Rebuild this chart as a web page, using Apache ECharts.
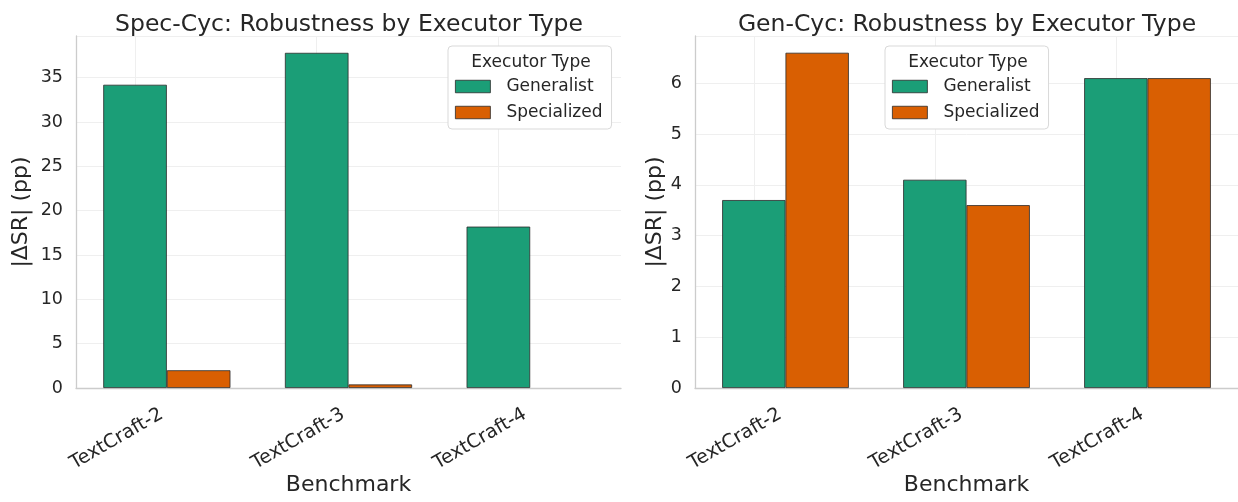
<!DOCTYPE html>
<html>
<head>
<meta charset="utf-8">
<script src="https://cdn.jsdelivr.net/npm/echarts@6/dist/echarts.min.js"></script>
<style>
  html, body { margin: 0; padding: 0; background: #ffffff; }
  #chart { width: 1238px; height: 502px; }
</style>
</head>
<body>
<div id="chart"></div>
<script>
// data
const benchmarks = ['TextCraft-2', 'TextCraft-3', 'TextCraft-4'];
const specGeneralist = [34.2, 37.8, 18.2];
const specSpecialized = [2.0, 0.4, 0.0];
const genGeneralist = [3.7, 4.1, 6.1];
const genSpecialized = [6.6, 3.6, 6.1];
const specTicks = [0, 5, 10, 15, 20, 25, 30, 35];
const genTicks = [0, 1, 2, 3, 4, 5, 6];

const FONT = 'DejaVu Sans';
const GREEN = '#1b9e77';
const ORANGE = '#d95f02';
const TEXT = '#262626';

const chart = echarts.init(document.getElementById('chart'), null, { renderer: 'canvas' });

function xAxisFor(gridIndex) {
  return {
    type: 'category',
    gridIndex: gridIndex,
    data: benchmarks,
    name: 'Benchmark',
    nameLocation: 'middle',
    nameGap: 86,
    nameMoveOverlap: false,
    nameTextStyle: { fontFamily: FONT, fontSize: 22, color: TEXT },
    axisLine: { show: true, lineStyle: { color: '#cccccc', width: 1.3 } },
    axisTick: { show: false },
    axisLabel: { rotate: 30, fontFamily: FONT, fontSize: 19, color: TEXT, margin: 22, padding: [0, 6, 0, 0] },
    splitLine: { show: false }
  };
}

function yAxisFor(gridIndex, max, interval, ticks) {
  return {
    type: 'value',
    gridIndex: gridIndex,
    min: 0,
    max: max,
    interval: interval,
    name: '|ΔSR| (pp)',
    nameLocation: 'middle',
    nameGap: gridIndex === 0 ? 44 : 29,
    nameMoveOverlap: false,
    nameTextStyle: { fontFamily: FONT, fontSize: 22, color: TEXT },
    axisLine: { show: true, lineStyle: { color: '#cccccc', width: 1.3 } },
    axisTick: { show: false },
    axisLabel: {
      fontFamily: FONT, fontSize: 17.5, color: TEXT, margin: 13,
      formatter: v => (ticks.indexOf(v) >= 0 ? String(v) : '')
    },
    splitLine: { show: true, lineStyle: { color: '#efefef', width: 1 } }
  };
}

function vLines() {
  return {
    silent: true,
    symbol: 'none',
    z: 1,
    label: { show: false },
    lineStyle: { color: '#efefef', type: 'solid', width: 1 },
    data: benchmarks.map(b => ({ xAxis: b }))
  };
}

function barSeries(name, color, data, idx, withLines) {
  const s = {
    name: name,
    type: 'bar',
    xAxisIndex: idx,
    yAxisIndex: idx,
    // a zero-height bar leaves no visible mark
    data: data.map(v => (v === 0 ? { value: v, itemStyle: { borderWidth: 0 } } : v)),
    barWidth: '35%',
    barGap: '0%',
    z: 2,
    itemStyle: { color: color, borderColor: '#2b2b2b', borderWidth: 0.8 }
  };
  if (withLines) s.markLine = vLines();
  return s;
}

function legendFor(left) {
  return {
    left: left,
    top: 46,
    orient: 'vertical',
    data: ['Generalist', 'Specialized'],
    icon: 'rect',
    itemWidth: 35,
    itemHeight: 12.5,
    itemGap: 9,
    padding: [32, 9, 8, 7],
    borderColor: '#d9d9d9',
    borderWidth: 1,
    borderRadius: 4,
    backgroundColor: '#ffffff',
    itemStyle: { borderColor: '#2b2b2b', borderWidth: 0.8 },
    textStyle: { fontFamily: FONT, fontSize: 17, color: TEXT, padding: [0, 0, 0, 11] }
  };
}

const option = {
  backgroundColor: '#ffffff',
  animation: false,
  color: [GREEN, ORANGE],
  title: [
    { text: 'Spec-Cyc: Robustness by Executor Type', left: 344, top: 8, textAlign: 'center',
      textStyle: { fontFamily: FONT, fontSize: 23.5, fontWeight: 'normal', color: TEXT } },
    { text: 'Gen-Cyc: Robustness by Executor Type', left: 962, top: 8, textAlign: 'center',
      textStyle: { fontFamily: FONT, fontSize: 23.5, fontWeight: 'normal', color: TEXT } },
    { text: 'Executor Type', left: 526, top: 49, textAlign: 'center',
      textStyle: { fontFamily: FONT, fontSize: 17, fontWeight: 'normal', color: TEXT } },
    { text: 'Executor Type', left: 963, top: 49, textAlign: 'center',
      textStyle: { fontFamily: FONT, fontSize: 17, fontWeight: 'normal', color: TEXT } }
  ],
  legend: [legendFor(448), legendFor(885)],
  grid: [
    { left: 76, top: 36, width: 545, height: 352, containLabel: false, outerBoundsMode: 'none' },
    { left: 695, top: 36, width: 543, height: 352, containLabel: false, outerBoundsMode: 'none' }
  ],
  xAxis: [xAxisFor(0), xAxisFor(1)],
  yAxis: [yAxisFor(0, 39.7, 5, specTicks), yAxisFor(1, 6.93, 1, genTicks)],
  series: [
    barSeries('Generalist', GREEN, specGeneralist, 0, true),
    barSeries('Specialized', ORANGE, specSpecialized, 0, false),
    barSeries('Generalist', GREEN, genGeneralist, 1, true),
    barSeries('Specialized', ORANGE, genSpecialized, 1, false)
  ]
};

chart.setOption(option);
</script>
</body>
</html>
